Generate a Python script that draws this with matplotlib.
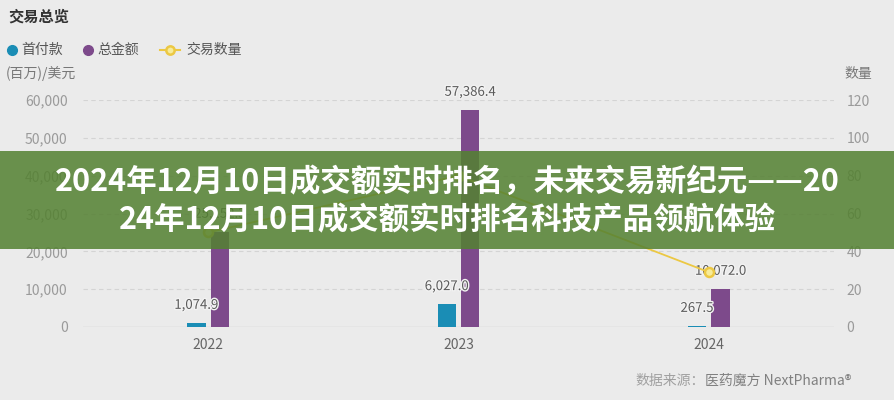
import matplotlib
matplotlib.use("Agg")
import matplotlib.pyplot as plt
import matplotlib.patheffects as pe
from matplotlib.lines import Line2D
from matplotlib.patches import Rectangle
import numpy as np

plt.rcParams["font.family"] = ["Noto Sans CJK SC", "DejaVu Sans"]

# data
years = ["2022", "2023", "2024"]
down_payment = [1074.9, 6027.0, 267.5]       # 首付款 (百万美元)
total_amount = [25152.3, 57386.4, 10072.0]   # 总金额 (百万美元)
deal_count = [50, 80, 29]                    # 交易数量
left_ticks = [0, 10000, 20000, 30000, 40000, 50000, 60000]
right_ticks = [0, 20, 40, 60, 80, 100, 120]

BLUE = "#1a8db5"
PURPLE = "#7d4a8b"
YELLOW = "#ecc843"
BG = "#ebebeb"
W, H = 894, 400

fig = plt.figure(figsize=(W / 100, H / 100), dpi=100, facecolor=BG)
ax = fig.add_axes([83 / W, 1 - 327 / H, (834 - 83) / W, (327 - 100) / H])
ax.set_facecolor(BG)
ax2 = ax.twinx()

x = np.arange(len(years))
bw = 0.073
off = 0.047
ax.bar(x - off, down_payment, bw, color=BLUE, zorder=3)
ax.bar(x + off, total_amount, bw, color=PURPLE, zorder=3)

ax.set_xlim(-0.5, 2.5)
ax.set_ylim(0, 60000)
ax.set_yticks(left_ticks)
ax.set_yticklabels([f"{v:,}" for v in left_ticks])
ax.set_xticks(x)
ax.set_xticklabels(years)
ax.tick_params(axis="y", length=0, pad=11, labelsize=10, labelcolor="#9a9a9a")
ax.tick_params(axis="x", length=0, pad=8, labelsize=10, labelcolor="#666666")
for s in ax.spines.values():
    s.set_visible(False)
for s in ax2.spines.values():
    s.set_visible(False)
for v in left_ticks[1:]:
    ax.axhline(v, color="#d4d4d4", lw=0.8, ls=(0, (4, 3)), zorder=1)
ax.axhline(0, color="#d0d0d0", lw=1, zorder=2)

lbl_fx = [pe.withStroke(linewidth=2, foreground="#f2f2f2")]
for xi, v in zip(x, down_payment):
    ax.annotate(f"{v:,.1f}", (xi - off, v), xytext=(0, 8), textcoords="offset points",
                ha="center", va="bottom", fontsize=9.5, color="#5a5a5a", zorder=6,
                path_effects=lbl_fx)
for xi, v in zip(x, total_amount):
    ax.annotate(f"{v:,.1f}", (xi + off, v), xytext=(0, 8), textcoords="offset points",
                ha="center", va="bottom", fontsize=9.5, color="#5a5a5a", zorder=6,
                path_effects=lbl_fx)

ax2.plot(x, deal_count, color=YELLOW, lw=1.3, marker="o", ms=6.5, mfc="#f7ec9a",
         mec=YELLOW, mew=1.8, zorder=5)
ax2.set_ylim(0, 120)
ax2.set_yticks(right_ticks)
ax2.tick_params(axis="y", length=0, pad=9, labelsize=10, labelcolor="#9a9a9a")
ax.set_zorder(0)
ax2.set_zorder(1)
ax2.patch.set_visible(False)
ax.patch.set_visible(True)

# header texts
fig.text(8 / W, 1 - 17 / H, "交易总览", fontsize=11, fontweight="bold", color="#333333",
         va="center", ha="left")
leg_y = 1 - 50 / H
fig.add_artist(Line2D([12 / W], [leg_y], marker="o", ms=7, color=BLUE, ls="none",
                      transform=fig.transFigure))
fig.text(21 / W, leg_y, "首付款", fontsize=10, color="#555555", va="center")
fig.add_artist(Line2D([88 / W], [leg_y], marker="o", ms=7, color=PURPLE, ls="none",
                      transform=fig.transFigure))
fig.text(97 / W, leg_y, "总金额", fontsize=10, color="#555555", va="center")
fig.add_artist(Line2D([160 / W, 180 / W], [leg_y, leg_y], color=YELLOW, lw=1.5,
                      transform=fig.transFigure))
fig.add_artist(Line2D([170 / W], [leg_y], marker="o", ms=6, mfc="#f7ec9a", mec=YELLOW,
                      mew=1.8, ls="none", transform=fig.transFigure))
fig.text(186 / W, leg_y, "交易数量", fontsize=10, color="#555555", va="center")
fig.text(6 / W, 1 - 74 / H, "(百万)/美元", fontsize=10, color="#777777", va="center")
fig.text(844 / W, 1 - 74 / H, "数量", fontsize=10, color="#777777", va="center")

# source line
fig.text(635 / W, 1 - 381 / H, "数据来源：", fontsize=10, color="#a0a0a0", va="center")
fig.text(705 / W, 1 - 381 / H, "医药魔方 NextPharma®", fontsize=10, color="#808080",
         va="center")

# green overlay banner
fig.add_artist(Rectangle((0, 1 - 249 / H), 1, (249 - 151) / H, transform=fig.transFigure,
                         facecolor="#548132", alpha=0.86, edgecolor="none", zorder=10))
fig.text(0.5, 1 - 201 / H,
         "2024年12月10日成交额实时排名，未来交易新纪元——20\n24年12月10日成交额实时排名科技产品领航体验",
         ha="center", va="center", fontsize=22, fontweight="bold", color="white",
         linespacing=1.27, zorder=11)

fig.savefig("out.png", dpi=100, facecolor=BG)
